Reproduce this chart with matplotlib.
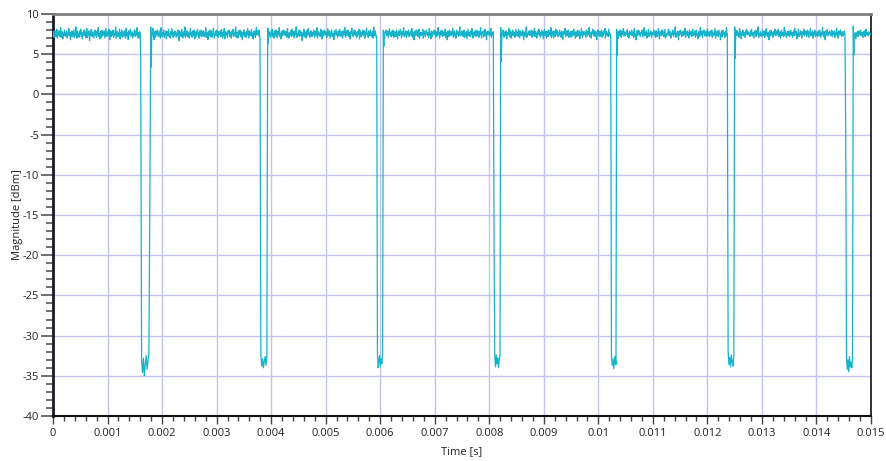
import numpy as np
import matplotlib
matplotlib.use("Agg")
import matplotlib.pyplot as plt
from matplotlib.ticker import MultipleLocator, FixedLocator

# ---- measured trace -------------------------------------------------------
sample_step = 0.00001          # seconds between plateau samples

# plateau level readings (dBm), one per sample step starting at t = 0
plateau_dbm = [
    7.3,7.8,7.1,7.6,7.9,7.2,7.5,8.1,7.0,7.7,7.4,7.9,7.2,7.6,8.3,7.1,7.5,7.8,6.9,7.6,7.3,8.0,7.4,7.7,7.2,
    7.9,7.0,7.6,7.4,8.2,7.3,7.7,6.8,7.5,7.9,7.2,7.8,7.4,8.0,7.1,7.6,7.3,8.4,7.5,7.0,7.8,7.4,7.6,7.1,7.9,
    7.5,8.1,7.2,7.7,6.9,7.6,7.4,8.0,7.3,7.8,7.0,7.5,8.2,7.1,7.7,7.4,7.9,6.7,7.6,7.3,8.1,7.5,7.2,7.8,7.4,
    7.0,7.7,8.0,7.3,7.6,7.1,7.9,7.4,8.3,7.2,7.6,6.9,7.8,7.5,7.1,8.0,7.3,7.7,7.4,7.9,7.0,7.6,8.2,7.2,7.5,
    7.8,7.3,7.6,8.1,6.8,7.5,7.9,7.2,7.7,7.4,8.0,7.1,7.6,7.3,7.9,8.4,7.0,7.5,7.8,7.2,7.6,7.4,8.1,6.9,7.7,
    7.4,8.0,7.1,7.8,7.5,7.2,7.9,7.6,7.0,8.2,7.3,7.7,7.5,6.8,7.9,7.4,7.6,8.1,7.2,7.5,7.8,7.0,7.6,7.3,8.0,
    7.6,7.2,7.9,7.4,8.3,7.1,7.7,7.5,7.0,7.8,7.3,8.1,7.6,7.2,7.5,7.9,6.9,7.7,7.4,8.0,7.1,7.6,7.8,7.3,7.5,
    8.1,7.4,7.0,7.7,7.5,7.9,7.2,7.6,8.2,7.3,6.8,7.8,7.5,7.1,7.9,7.4,7.7,8.0,7.2,7.6,7.3,7.9,7.0,8.3,7.5,
    7.2,7.7,7.5,8.0,7.1,7.6,7.4,7.9,6.9,7.8,7.3,7.6,8.1,7.2,7.5,7.0,7.8,7.4,8.2,7.6,7.1,7.7,7.3,7.9,7.5,
    7.8,7.1,7.6,7.3,8.0,7.5,6.7,7.9,7.4,7.7,7.2,8.1,7.5,7.0,7.6,7.8,7.3,8.4,7.1,7.6,7.4,7.9,7.2,7.7,7.5,
    7.0,7.6,8.2,7.4,7.7,7.1,7.9,7.5,7.3,8.0,6.9,7.6,7.8,7.2,7.5,8.1,7.4,7.7,7.0,7.9,7.3,7.6,8.0,7.2,7.8,
    7.5,7.9,7.2,7.6,7.4,8.3,7.1,7.7,7.5,6.8,7.8,7.3,7.6,8.0,7.2,7.9,7.4,7.1,7.7,8.2,7.5,7.0,7.6,7.4,7.9,
    7.3,8.0,7.6,7.1,7.8,7.4,7.6,7.9,7.2,8.1,7.5,7.0,7.7,7.3,8.2,6.9,7.6,7.8,7.4,7.5,7.1,7.9,7.6,8.0,7.2,
    7.7,7.4,7.0,7.9,7.5,8.1,7.2,7.6,7.3,7.8,8.4,7.1,7.5,7.7,7.0,7.9,7.4,7.6,8.0,7.2,7.8,7.3,6.8,7.7,7.5,
    8.0,7.2,7.7,7.5,7.1,7.8,7.4,8.2,7.6,7.0,7.9,7.3,7.7,7.5,8.1,7.2,7.6,6.9,7.8,7.4,7.9,7.1,7.6,8.3,7.4,
    7.6,7.9,7.3,8.0,7.1,7.5,7.7,7.2,7.9,7.4,6.8,7.8,7.6,8.1,7.3,7.5,7.0,7.9,7.4,7.7,8.2,7.2,7.5,7.8,7.1,
    7.4,7.7,8.1,7.2,7.6,7.0,7.9,7.5,7.3,8.0,7.6,7.1,7.8,7.4,7.7,8.3,7.2,7.5,6.9,7.8,7.3,7.6,8.0,7.4,7.7,
    7.9,7.3,7.5,7.8,7.1,8.2,7.4,7.6,7.0,7.7,7.5,7.9,7.2,8.1,7.6,7.3,7.8,7.0,7.5,7.9,7.4,8.4,7.1,7.6,7.3,
    7.6,8.0,7.2,7.5,7.9,7.3,7.7,6.7,7.6,7.4,8.1,7.2,7.8,7.5,7.0,7.9,7.3,7.6,8.2,7.4,7.7,7.1,7.8,7.5,7.9,
    7.2,7.7,7.4,8.0,7.5,7.1,7.9,7.6,7.3,8.3,7.0,7.5,7.8,7.4,7.6,7.2,8.1,7.7,6.9,7.5,7.9,7.3,7.6,8.0,7.4,
    7.8,7.5,7.1,7.7,8.2,7.3,7.6,7.9,7.0,7.4,7.8,8.0,7.2,7.6,7.5,6.8,7.9,7.3,7.7,8.1,7.4,7.6,7.1,7.9,7.5,
    7.3,8.1,7.6,7.2,7.8,7.5,7.0,7.9,7.4,7.7,8.3,7.1,7.5,7.9,7.3,7.6,8.0,7.2,7.7,7.4,6.9,7.8,7.6,8.2,7.3,
    7.6,7.2,7.9,7.5,8.0,7.3,7.7,7.1,7.8,7.4,7.6,8.1,6.9,7.5,7.9,7.2,7.7,7.4,8.0,7.6,7.3,7.9,7.0,7.5,7.8,
    8.2,7.4,7.6,7.1,7.9,7.5,7.3,8.0,7.7,7.2,7.5,7.8,7.0,8.4,7.6,7.3,7.9,7.5,7.1,7.7,8.1,7.4,7.6,6.8,7.8,
    7.5,7.9,7.3,7.6,8.1,7.2,7.7,7.4,7.0,7.8,7.6,8.0,7.3,7.5,7.9,7.1,7.6,8.2,7.4,7.7,7.2,7.5,7.9,7.3,8.0,
    7.1,7.6,7.8,7.4,7.2,8.0,7.5,6.9,7.7,7.9,7.3,7.6,8.1,7.5,7.0,7.8,7.4,7.7,8.3,7.2,7.6,7.4,7.9,7.1,7.5,
    7.8,7.4,8.0,7.2,7.6,7.5,7.9,7.3,8.2,7.1,7.7,7.5,6.8,7.8,7.6,7.3,8.0,7.4,7.9,7.2,7.5,8.1,7.0,7.7,7.6,
    7.3,7.7,7.5,8.1,7.0,7.6,7.9,7.4,7.2,7.8,8.0,7.5,7.3,7.7,7.1,8.2,7.6,7.4,6.9,7.9,7.5,7.2,7.8,7.6,8.0,
    7.4,7.9,7.1,7.6,7.8,7.3,8.3,7.5,7.7,7.0,7.6,7.9,7.4,8.0,7.2,7.5,7.8,7.3,7.6,8.1,7.1,7.7,7.5,6.8,7.9,
    7.6,7.2,8.0,7.5,7.3,7.8,7.4,7.7,8.2,7.1,7.5,7.9,7.3,7.6,7.0,8.0,7.4,7.8,7.5,7.2,7.9,8.4,7.3,7.6,7.4,
    7.9,7.5,7.2,7.7,8.0,7.1,7.6,7.4,7.8,6.9,7.5,8.1,7.3,7.7,7.6,7.2,7.9,7.4,8.2,7.5,7.0,7.7,7.3,7.8,7.6,
    7.2,8.0,7.5,7.3,7.9,7.6,7.1,7.8,7.4,8.3,7.5,7.0,7.7,7.6,7.9,7.2,7.4,8.1,7.3,7.6,6.8,7.8,7.5,7.9,7.4,
    7.7,7.3,7.9,8.2,7.1,7.6,7.5,7.8,7.2,7.4,8.0,7.6,7.0,7.9,7.5,7.3,8.1,7.7,7.4,7.6,7.2,7.9,8.3,7.1,7.5,
    8.0,7.6,7.1,7.5,7.8,7.3,7.9,6.9,7.7,7.4,7.6,8.2,7.2,7.5,7.9,7.0,7.7,7.4,8.0,7.3,7.8,7.5,7.1,7.6,8.1,
    7.3,7.8,7.6,7.2,8.1,7.5,7.0,7.9,7.4,7.7,7.3,8.0,7.6,6.8,7.8,7.5,7.2,7.9,8.4,7.1,7.6,7.4,7.7,7.9,7.3,
    7.6,7.4,8.0,7.1,7.7,7.9,7.3,7.5,8.2,7.2,7.8,7.6,7.0,7.4,7.9,7.5,8.1,7.3,7.7,7.1,7.6,8.0,7.4,7.8,6.9,
    7.5,8.1,7.3,7.8,7.4,7.0,7.9,7.6,7.2,8.0,7.5,7.7,7.3,8.3,7.1,7.6,7.8,7.4,7.0,7.9,7.5,7.2,8.1,7.6,7.4,
    7.9,7.2,7.6,7.5,8.0,7.3,7.7,7.1,7.9,7.4,6.8,7.8,7.5,7.6,8.2,7.2,7.4,7.9,7.3,7.7,8.0,7.1,7.6,7.5,7.8,
    7.1,7.7,7.9,7.3,7.5,8.1,7.4,7.6,7.0,7.8,7.6,7.2,8.0,7.5,7.3,7.9,6.9,7.7,7.4,8.2,7.6,7.1,7.8,7.4,7.6,
    7.8,7.4,7.1,8.0,7.6,7.3,7.9,7.5,8.3,7.2,7.7,7.4,7.0,7.8,7.6,8.1,7.3,7.5,7.9,7.2,7.6,7.8,6.8,7.5,8.0,
    7.4,7.9,7.6,7.2,7.8,7.5,8.0,7.1,7.7,7.3,7.9,7.6,8.2,7.0,7.5,7.8,7.4,7.6,7.2,8.1,7.7,7.3,7.5,7.9,7.1,
    7.6,8.0,7.3,7.5,7.1,7.9,7.4,7.7,8.4,7.2,7.6,6.9,7.8,7.5,7.3,8.0,7.6,7.1,7.9,7.4,7.7,8.2,7.2,7.5,7.8,
    7.3,7.5,7.8,8.1,7.2,7.6,7.0,7.9,7.4,7.7,7.5,8.0,7.3,7.6,7.8,7.1,8.2,7.5,7.4,6.8,7.9,7.6,7.3,8.0,7.5,
    7.9,7.4,7.2,7.7,7.6,8.0,7.5,7.1,7.8,8.3,7.3,7.6,7.4,7.9,7.0,7.5,7.7,8.1,7.2,7.6,7.4,7.9,7.5,7.1,7.7,
    7.5,7.8,8.0,7.3,7.6,7.1,7.9,7.4,7.2,7.7,8.2,7.5,6.9,7.8,7.6,7.3,8.0,7.4,7.9,7.5,7.2,7.7,8.1,7.0,7.6,
    7.2,7.6,7.4,7.9,8.1,7.3,7.5,7.8,7.0,7.6,7.4,8.0,7.7,7.2,7.9,7.5,8.4,7.1,7.6,7.3,7.8,7.5,6.8,7.9,7.4,
    7.7,8.0,7.5,7.2,7.8,7.6,7.3,7.9,7.4,8.2,7.1,7.6,7.5,7.9,7.3,7.7,7.0,8.0,7.6,7.4,7.8,7.2,7.5,8.1,7.3,
    7.4,7.6,7.9,7.1,7.7,8.0,7.3,7.5,6.9,7.8,7.6,7.2,8.3,7.5,7.4,7.9,7.1,7.7,7.6,8.0,7.3,7.5,7.8,7.2,7.6,
    8.1,7.3,7.6,7.8,7.2,7.5,7.9,7.4,8.0,7.1,7.7,7.5,7.3,7.8,8.2,7.0,7.6,7.4,7.9,7.5,7.2,8.0,7.7,7.4,6.8,
    7.6,7.9,7.2,7.5,8.0,7.4,7.7,7.1,7.8,7.6,8.3,7.3,7.5,7.9,7.2,7.6,7.4,8.1,7.0,7.7,7.5,7.8,7.3,7.6,7.9,
    7.2,7.5,8.0,7.7,7.3,7.9,7.4,7.6,7.1,8.2,7.5,7.8,6.9,7.6,7.4,8.0,7.3,7.7,7.5,7.1,7.9,7.6,8.1,7.4,7.7,
    7.8,7.4,7.6,7.2,7.9,7.5,8.1,7.3,7.7,7.5,7.0,7.8,7.6,8.0,7.2,7.4,7.9,7.5,8.4,7.1,7.6,7.3,7.8,7.5,7.2,
    7.5,8.0,7.3,7.8,7.6,7.1,7.9,7.4,8.2,7.5,7.2,7.7,7.4,6.8,7.9,7.6,7.3,8.0,7.5,7.7,7.1,7.8,7.4,7.6,8.1,
    7.3,7.7,7.9,7.4,7.5,8.1,7.2,7.6,7.8,7.0,7.5,8.0,7.3,7.7,7.6,7.2,8.3,7.4,7.9,7.5,7.1,7.6,7.8,7.3,7.5,
    7.9,7.2,7.6,8.0,7.4,7.7,7.1,7.5,7.9,7.3,8.2,7.6,7.4,7.8,6.9,7.5,7.7,8.1,7.2,7.6,7.4,7.9,7.5,7.0,7.8,
    7.6,7.4,8.1,7.3,7.7,7.5,7.9,7.2,7.6,8.0,7.4,7.1,7.8,7.5,8.2,7.3,7.6,7.4,7.9,7.0,7.7,7.5,8.0,7.2,7.6,
    7.4,7.8,7.2,7.6,7.9,7.3,8.0,7.5,7.1,7.7,7.4,8.3,7.6,7.2,7.8,7.5,6.8,7.9,7.4,7.6,8.1,7.3,7.7,7.5,7.9,
    7.7,7.3,7.5,8.0,7.2,7.8,7.6,7.4,7.9,7.1,7.6,7.5,8.2,7.3,7.7,7.0,7.9,7.5,7.4,8.0,7.6,7.2,7.8,7.5,7.3,
    7.5,7.9,7.6,7.1,7.8,7.4,8.1,7.3,7.6,7.7,7.2,7.9,7.5,8.0,7.4,7.6,7.1,7.8,8.3,7.3,7.5,7.7,6.9,7.6,7.4,
    7.8,7.2,7.6,7.9,7.4,7.5,8.0,7.3,7.7,7.6,7.1,7.8,7.5,7.9,7.2,7.6,8.1,7.4,7.5,7.7,7.3,7.8,7.6,7.4,7.5,
    7.6,
]

# burst gaps: start of the drop, end of the recovery (s)
gap_start = [0.001608, 0.003796, 0.005936, 0.008074, 0.010227, 0.012365, 0.014523]
gap_end   = [0.001792, 0.003937, 0.006057, 0.008210, 0.010337, 0.012500, 0.014675]

# readings across each gap (dBm), from the drop to the recovery
gap_dbm = [
    [4.4, -33.0, -34.6, -32.8, -35.0, -33.6, -32.5, -34.2, -33.1, -32.4, -14.0, 8.4],
    [7.0, -32.4, -33.8, -32.9, -34.0, -33.2, -32.6, -33.7, -32.8, 8.2],
    [7.2, -32.2, -34.0, -33.1, -32.5, -33.8, -32.9, -33.5, -32.3, 8.0],
    [7.4, -18.0, -32.6, -33.9, -32.4, -33.5, -32.8, -34.0, -33.0, -32.5, 8.3],
    [7.3, -32.5, -33.7, -32.9, -34.1, -33.2, -32.6, -33.6, 8.1],
    [7.5, -32.0, -33.6, -32.7, -33.9, -32.4, -33.2, -33.8, -32.6, 8.4],
    [7.0, -5.0, -32.8, -34.2, -33.0, -34.5, -32.6, -33.9, -33.3, -34.0, -32.7, 8.5],
]

# level right after each recovery (dBm)
settle_dbm = [3.4, 6.3, 6.0, 4.1, 4.9, 4.5, 4.9]

x_ticks = [0, 0.001, 0.002, 0.003, 0.004, 0.005, 0.006, 0.007,
           0.008, 0.009, 0.01, 0.011, 0.012, 0.013, 0.014, 0.015]
x_tick_labels = ["0", "0.001", "0.002", "0.003", "0.004", "0.005", "0.006", "0.007",
                 "0.008", "0.009", "0.01", "0.011", "0.012", "0.013", "0.014", "0.015"]
y_ticks = [10, 5, 0, -5, -10, -15, -20, -25, -30, -35, -40]
y_tick_labels = ["10", "5", "0", "-5", "-10", "-15", "-20", "-25", "-30", "-35", "-40"]

# ---- assemble the full trace ---------------------------------------------
plateau_t = np.arange(len(plateau_dbm)) * sample_step
plateau_v = np.asarray(plateau_dbm)

trace_t, trace_v = [], []
prev_end = -1.0
for t0, t1, levels, settle in zip(gap_start, gap_end, gap_dbm, settle_dbm):
    keep = (plateau_t > prev_end) & (plateau_t < t0)
    trace_t.extend(plateau_t[keep])
    trace_v.extend(plateau_v[keep])
    trace_t.extend(np.linspace(t0, t1, len(levels)))
    trace_v.extend(levels)
    trace_t.append(t1 + sample_step)
    trace_v.append(settle)
    prev_end = t1 + sample_step
keep = plateau_t > prev_end
trace_t.extend(plateau_t[keep])
trace_v.extend(plateau_v[keep])

# ---- figure ---------------------------------------------------------------
plt.rcParams["font.family"] = ["Open Sans", "DejaVu Sans"]

fig = plt.figure(figsize=(8.86, 4.61), dpi=100)
ax = fig.add_axes([53 / 886, 1 - 416 / 461, 818 / 886, 402 / 461])

ax.plot(trace_t, trace_v, color="#17b3ca", lw=0.9, zorder=3)

ax.set_xlim(0, 0.015)
ax.set_ylim(-40, 10)

ax.xaxis.set_major_locator(FixedLocator(x_ticks))
ax.set_xticklabels(x_tick_labels)
ax.yaxis.set_major_locator(FixedLocator(y_ticks))
ax.set_yticklabels(y_tick_labels)
ax.xaxis.set_minor_locator(MultipleLocator(0.0002))
ax.yaxis.set_minor_locator(MultipleLocator(1))

ax.grid(which="major", color="#c3c3ee", lw=1.0, zorder=1)
ax.set_axisbelow(True)

ax.tick_params(axis="x", which="major", direction="out", length=6, width=1.0,
               color="#444444", labelsize=8, labelcolor="#222222", pad=3)
ax.tick_params(axis="x", which="minor", direction="out", length=3.5, width=1.0,
               color="#444444")
ax.tick_params(axis="y", which="major", direction="out", length=9, width=1.2,
               color="#555555", labelsize=8, labelcolor="#222222", pad=1)
ax.tick_params(axis="y", which="minor", direction="out", length=5, width=1.2,
               color="#555555")

ax.spines["left"].set_color("#1a1a2a")
ax.spines["left"].set_linewidth(2.0)
ax.spines["top"].set_color("#808080")
ax.spines["top"].set_linewidth(2.0)
ax.spines["bottom"].set_color("#111111")
ax.spines["bottom"].set_linewidth(1.5)
ax.spines["right"].set_color("#111111")
ax.spines["right"].set_linewidth(1.2)

ax.set_xlabel("Time [s]", fontsize=8, color="#222222", labelpad=5)
ax.set_ylabel("Magnitude [dBm]", fontsize=8, color="#222222", labelpad=0)

fig.savefig("out.png", dpi=100)
